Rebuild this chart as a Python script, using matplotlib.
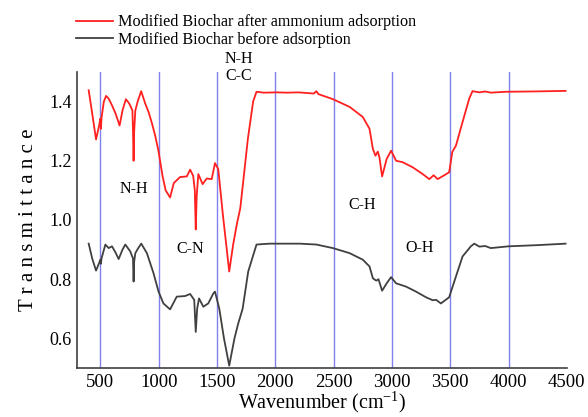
import matplotlib.pyplot as plt

# FTIR spectra
wn_after = [400, 430, 463, 490, 500, 505, 510, 530, 549, 571, 600, 630, 665, 690, 719, 748, 775, 780,
            785, 790, 800, 820, 850, 885, 913, 940, 970, 998, 1033, 1060, 1098, 1130, 1184, 1241, 1270,
            1296, 1310, 1318, 1326, 1340, 1377, 1412, 1455, 1483, 1511, 1550, 1605, 1640, 1675, 1682,
            1700, 1765, 1810, 1839, 1900, 2010, 2100, 2200, 2330, 2352, 2370, 2494, 2637, 2750, 2808,
            2837, 2859, 2879, 2893, 2916, 2955, 2993, 3036, 3093, 3178, 3264, 3321, 3358, 3392, 3449,
            3491, 3518, 3549, 3606, 3663, 3691, 3750, 3800, 3850, 3976, 4200, 4489]
tr_after = [1.438, 1.36, 1.272, 1.32, 1.342, 1.308, 1.345, 1.40, 1.419, 1.41, 1.387, 1.36, 1.319, 1.37,
            1.408, 1.393, 1.37, 1.30, 1.20, 1.30, 1.37, 1.40, 1.435, 1.393, 1.365, 1.33, 1.285, 1.234,
            1.149, 1.10, 1.076, 1.125, 1.145, 1.147, 1.17, 1.149, 1.10, 0.968, 1.08, 1.155, 1.121, 1.14,
            1.138, 1.192, 1.172, 1.02, 0.826, 0.92, 0.995, 1.007, 1.04, 1.274, 1.40, 1.433, 1.43, 1.431,
            1.43, 1.431, 1.427, 1.435, 1.425, 1.408, 1.382, 1.348, 1.308, 1.24, 1.217, 1.231, 1.212,
            1.147, 1.206, 1.234, 1.20, 1.195, 1.178, 1.155, 1.138, 1.151, 1.138, 1.151, 1.161, 1.23,
            1.251, 1.331, 1.41, 1.435, 1.431, 1.434, 1.430, 1.433, 1.434, 1.436]

wn_before = [400, 430, 463, 490, 500, 505, 510, 543, 571, 600, 630, 657, 690, 714, 756, 780, 785, 790,
             800, 825, 851, 899, 956, 999, 1041, 1098, 1155, 1226, 1270, 1305, 1318, 1330, 1346, 1383,
             1425, 1469, 1483, 1520, 1560, 1605, 1650, 1682, 1720, 1768, 1839, 1950, 2209, 2352, 2494,
             2637, 2750, 2808, 2837, 2866, 2885, 2916, 2955, 2993, 3036, 3121, 3207, 3292, 3349, 3380,
             3420, 3491, 3549, 3606, 3677, 3706, 3750, 3800, 3848, 4000, 4250, 4489]
tr_before = [0.92, 0.87, 0.829, 0.855, 0.866, 0.852, 0.87, 0.917, 0.905, 0.911, 0.89, 0.868, 0.90,
             0.917, 0.894, 0.87, 0.792, 0.86, 0.888, 0.905, 0.92, 0.888, 0.82, 0.758, 0.718, 0.698,
             0.741, 0.743, 0.75, 0.73, 0.622, 0.70, 0.735, 0.707, 0.718, 0.752, 0.758, 0.70, 0.60,
             0.508, 0.60, 0.65, 0.70, 0.826, 0.917, 0.92, 0.92, 0.917, 0.905, 0.888, 0.866, 0.843,
             0.803, 0.795, 0.80, 0.761, 0.786, 0.807, 0.786, 0.775, 0.758, 0.739, 0.729, 0.73, 0.718,
             0.739, 0.809, 0.877, 0.911, 0.92, 0.91, 0.912, 0.905, 0.911, 0.915, 0.92]

grid_lines = [500, 1000, 1500, 2000, 2500, 3000, 3500, 4000]
x_ticks = [500, 1000, 1500, 2000, 2500, 3000, 3500, 4000, 4500]
y_ticks = [0.6, 0.8, 1.0, 1.2, 1.4]

# band labels: (text, wavenumber, transmittance)
bands = [('N-H', 785, 1.104), ('C-N', 1270, 0.903), ('N-H\nC-C', 1690, 1.515),
         ('C-H', 2748, 1.049), ('O-H', 3235, 0.906)]

plt.rcParams['font.family'] = ['Liberation Serif', 'DejaVu Serif']
plt.rcParams['mathtext.fontset'] = 'custom'
plt.rcParams['mathtext.rm'] = 'Liberation Serif'

fig = plt.figure(figsize=(5.88, 4.17), dpi=100)
ax = fig.add_axes([0.131, 0.1175, 0.833, 0.71])

for g in grid_lines:
    ax.axvline(g, color='#8080ee', lw=1.0, zorder=1)

ax.plot(wn_after, tr_after, color='#ff2020', lw=1.3, zorder=3,
        label='Modified Biochar after ammonium adsorption')
ax.plot(wn_before, tr_before, color='#404040', lw=1.3, zorder=3,
        label='Modified Biochar before adsorption')

for txt, x, y in bands:
    ax.text(x, y, txt, fontsize=11.5, ha='center', va='center', clip_on=False, linespacing=1.05)

ax.set_xlim(300, 4500)
ax.set_ylim(0.5, 1.5)
ax.set_xticks(x_ticks)
ax.set_yticks(y_ticks)
ax.set_yticklabels(['0.6', '0.8', '1.0', '1.2', '1.4'])
ax.tick_params(length=0, pad=4)
ax.tick_params(axis='x', labelsize=13.5)
ax.tick_params(axis='y', labelsize=13)
for s in ['top', 'right']:
    ax.spines[s].set_visible(False)
for s in ['left', 'bottom']:
    ax.spines[s].set_color('#404040')
    ax.spines[s].set_linewidth(1.2)

ax.set_xlabel('Wavenumber (cm$^{\\mathrm{-1}}$)', fontsize=14.5, labelpad=-1)
ax.set_ylabel('T r a n s m i t t a n c e', fontsize=15, labelpad=8)

fig.legend(loc='upper left', bbox_to_anchor=(0.104, 1.0), frameon=False, fontsize=11.6,
           handlelength=2.3, handletextpad=0.35, labelspacing=0.1)

plt.savefig('out.png', dpi=100)
